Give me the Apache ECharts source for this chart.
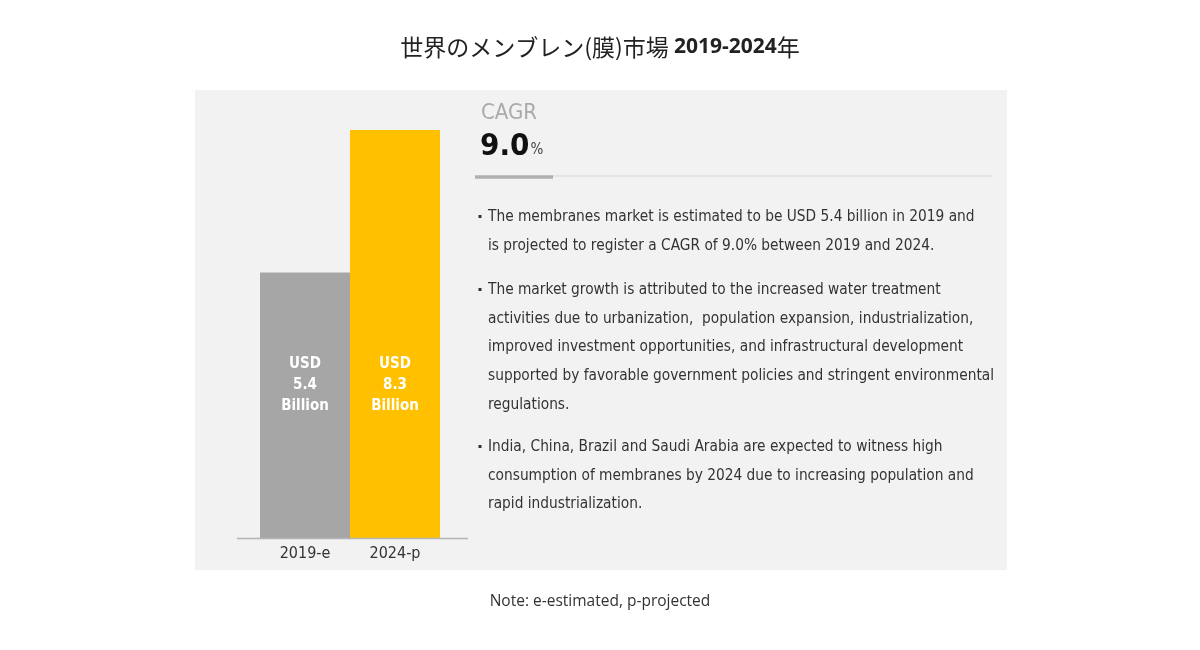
<!DOCTYPE html>
<html><head><meta charset="utf-8">
<script src="https://cdn.jsdelivr.net/npm/echarts@6/dist/echarts.min.js"></script>
<style>html,body{margin:0;padding:0;background:#fff}#c{width:1200px;height:650px}</style>
</head><body><div id="c"></div>
<script>
const categories = ['2019-e', '2024-p'];
const values = [5.4, 8.3];
const barColors = ['#a6a6a6', '#ffc000'];
const titleMain = '世界のメンブレン(膜)市場 ';
const titleYears = '2019-2024';
const titleEnd = '年';
const cagrLabel = 'CAGR';
const cagrValue = '9.0';
const bullets = [
  ['The membranes market is estimated to be USD 5.4 billion in 2019 and',
   'is projected to register a CAGR of 9.0% between 2019 and 2024.'],
  ['The market growth is attributed to the increased water treatment',
   'activities due to urbanization,  population expansion, industrialization,',
   'improved investment opportunities, and infrastructural development',
   'supported by favorable government policies and stringent environmental',
   'regulations.'],
  ['India, China, Brazil and Saudi Arabia are expected to witness high',
   'consumption of membranes by 2024 due to increasing population and',
   'rapid industrialization.']
];
const note = 'Note: e-estimated, p-projected';

const narrow = '"Liberation Sans Narrow", "DejaVu Sans Condensed", Roboto, sans-serif';
const chart = echarts.init(document.getElementById('c'));
const bulletTops = [203, 276, 433];
const graphics = [
  {type:'rect', z:-10, shape:{x:195,y:90,width:812,height:480}, style:{fill:'#f2f2f2'}},
  {type:'line', z:5, shape:{x1:237,y1:538.5,x2:468,y2:538.5}, style:{stroke:'#b4b4b4',lineWidth:1.5}},
  {type:'text', left:'center', top:36, style:{rich:{a:{fontFamily:'"Noto Sans CJK JP", sans-serif',fontSize:23,fill:'#222'},b:{fontFamily:'"Open Sans", sans-serif',fontWeight:'bold',fontSize:21,fill:'#222'}}, text:'{a|'+titleMain+'}{b|'+titleYears+'}{a|'+titleEnd+'}'}},
  {type:'text', x:481, y:102, style:{text:cagrLabel, font:'22px '+narrow, fill:'#aaaaaa'}},
  {type:'text', x:480, y:131, style:{rich:{v:{fontFamily:narrow,fontSize:31,fill:'#111',fontWeight:'bold'},p:{fontFamily:narrow,fontSize:15,fill:'#444',padding:[8,0,0,1]}}, text:'{v|'+cagrValue+'}{p|%}'}},
  {type:'line', shape:{x1:553,y1:176,x2:993,y2:176}, style:{stroke:'#d6d6d6',lineWidth:1}},
  {type:'line', shape:{x1:475,y1:177,x2:553,y2:177}, style:{stroke:'#b0b0b0',lineWidth:3.5}},
  {type:'text', left:'center', top:594, style:{text:note, font:'15.5px "Open Sans", sans-serif', fill:'#333'}}
];
bullets.forEach((lines, i) => {
  graphics.push({type:'rect', shape:{x:478.5, y:bulletTops[i]+12, width:3, height:3}, style:{fill:'#333'}});
  graphics.push({type:'text', x:488, y:bulletTops[i], style:{text:lines.join('\n'), font:'15.3px '+narrow, fill:'#333', lineHeight:28.6}});
});

chart.setOption({
  animation:false,
  grid:{left:260, right:760, top:130, bottom:112},
  xAxis:{type:'category', data:categories, axisLine:{show:false}, axisTick:{show:false},
    axisLabel:{margin:8, fontSize:16, color:'#333', fontFamily:narrow}},
  yAxis:{type:'value', min:0, max:'dataMax', show:false, splitLine:{show:false}},
  series:[{type:'bar', barCategoryGap:'0%', data:values.map((v,i)=>({value:v, itemStyle:{color:barColors[i]}})),
    label:{show:true, position:'insideBottom', distance:121, color:'#fff', fontWeight:'bold', fontSize:15, lineHeight:21, fontFamily:narrow,
      formatter:p=>'USD\n'+p.value.toFixed(1)+'\nBillion'}}],
  graphic:graphics
});
</script></body></html>
